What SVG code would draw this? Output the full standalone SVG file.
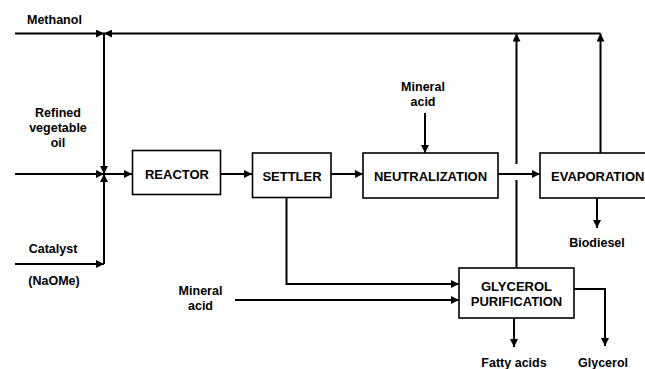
<svg xmlns="http://www.w3.org/2000/svg" width="645" height="369" viewBox="0 0 645 369">
<defs>
<marker id="ah" viewBox="0 0 10 10" refX="10" refY="5" markerWidth="4" markerHeight="4" orient="auto" markerUnits="strokeWidth">
<path d="M0,0 L10,5 L0,10 Z" fill="#000"/>
</marker>
<style>
.box{fill:#fff;stroke:#000;stroke-width:1.6}
.ln{fill:none;stroke:#000;stroke-width:2}
.ar{fill:none;stroke:#000;stroke-width:2;marker-end:url(#ah)}
text{font-family:"Liberation Sans",Arial,sans-serif;font-weight:bold;fill:#000}
.bt{font-size:13px;text-anchor:middle}
.lb{font-size:12.5px;text-anchor:middle}
</style>
</defs>
<rect width="645" height="369" fill="#fff"/>
<g id="connectors">
<path class="ar" d="M15,33.5 H104"/>
<path class="ar" d="M600.5,33.5 H104"/>
<path class="ar" d="M104,33.5 V174"/>
<path class="ar" d="M104,264 V174"/>
<path class="ar" d="M15,174 H104"/>
<path class="ar" d="M15,264 H104"/>
<path class="ar" d="M104,174 H132"/>
<path class="ar" d="M221,174 H252"/>
<path class="ar" d="M331,174 H363"/>
<path class="ar" d="M425,113 V153"/>
<path class="ar" d="M498,174 H540"/>
<path class="ar" d="M516.5,164 V33.5"/>
<path class="ln" d="M516.5,268 V180"/>
<path class="ar" d="M600.5,153 V33.5"/>
<path class="ar" d="M597,198 V228"/>
<path class="ar" d="M286.5,197 V284 H459"/>
<path class="ar" d="M235,300 H459"/>
<path class="ar" d="M514,318 V347"/>
<path class="ar" d="M574,289 H605 V346"/>
</g>
<g id="reactor">
<rect class="box" x="132.5" y="150.5" width="88" height="44"/>
<text class="bt" x="177" y="178.5">REACTOR</text>
</g>
<g id="settler">
<rect class="box" x="252.5" y="153" width="78.5" height="44.5"/>
<text class="bt" x="292" y="180.5">SETTLER</text>
</g>
<g id="neutralization">
<rect class="box" x="363" y="153" width="135" height="45"/>
<text class="bt" x="430.5" y="180.5">NEUTRALIZATION</text>
</g>
<g id="evaporation">
<rect class="box" x="540" y="153" width="115" height="45"/>
<text x="551" y="180.5" style="font-size:13px">EVAPORATION</text>
</g>
<g id="glycerol-purification">
<rect class="box" x="459" y="268" width="115" height="50"/>
<text class="bt" x="516.5" y="291">GLYCEROL</text>
<text class="bt" x="516.5" y="306">PURIFICATION</text>
</g>
<g id="labels">
<text x="27" y="24" style="font-size:12.5px">Methanol</text>
<text class="lb" x="58" y="117">Refined</text>
<text class="lb" x="58" y="132">vegetable</text>
<text class="lb" x="58" y="147">oil</text>
<text class="lb" x="53" y="253">Catalyst</text>
<text class="lb" x="54" y="285">(NaOMe)</text>
<text class="lb" x="423" y="91">Mineral</text>
<text class="lb" x="423" y="106">acid</text>
<text class="lb" x="200.5" y="295">Mineral</text>
<text class="lb" x="200.5" y="310">acid</text>
<text class="lb" x="597" y="247">Biodiesel</text>
<text class="lb" x="514" y="367">Fatty acids</text>
<text class="lb" x="603" y="367">Glycerol</text>
</g>
</svg>
